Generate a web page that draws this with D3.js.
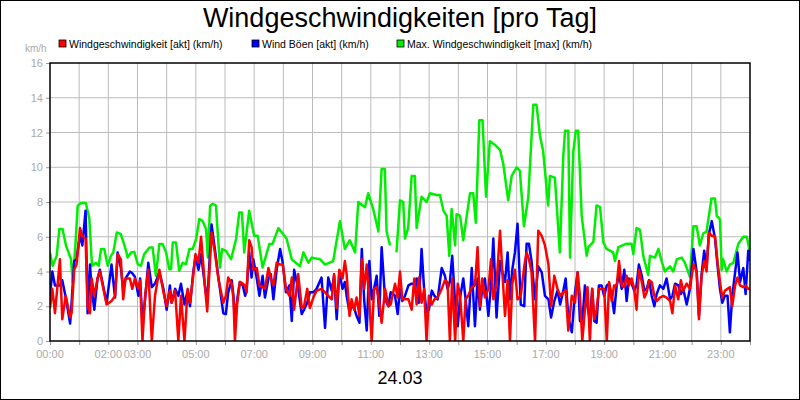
<!DOCTYPE html>
<html>
<head>
<meta charset="utf-8">
<script src="https://cdn.jsdelivr.net/npm/d3@7"></script>
<style>
body { margin: 0; background: #fff; }
text { font-family: "Liberation Sans", Arial, sans-serif; }
</style>
</head>
<body>
<svg id="chart" width="800" height="400"></svg>
<script>
// Zeitpunkte (Stunden) fuer akt + Boeen
let hours = [0,.08,.17,.34,.42,.54,.69,.74,.83,.91,1.03,1.11,1.22,1.29,1.37,1.43,1.52,1.63,1.71,1.94,2.11,2.23,2.32,2.43,2.51,2.59,2.74,2.82,2.91,3.03,3.09,3.17,3.26,3.37,3.49,3.6,3.75,3.89,4.0,4.11,4.17,4.29,4.4,4.49,4.61,4.72,4.8,4.91,4.99,5.09,5.18,5.31,5.39,5.54,5.66,5.77,5.94,
  6.03,6.11,6.23,6.29,6.34,6.42,6.51,6.61,6.69,6.74,6.83,6.91,6.97,7.09,7.18,7.29,7.37,7.49,7.57,7.66,7.77,7.89,7.98,8.09,8.21,8.29,8.37,8.51,8.63,8.71,8.82,8.91,9.03,9.14,9.31,9.43,9.54,9.66,9.74,9.83,9.92,10.03,10.11,10.17,10.27,10.34,10.43,10.51,10.61,10.69,10.77,10.86,10.95,11.03,11.11,11.2,11.29,11.37,11.49,11.6,11.68,
  11.83,11.92,12.0,12.08,12.17,12.29,12.4,12.49,12.57,12.65,12.74,12.83,12.91,12.99,13.09,13.18,13.29,13.43,13.54,13.63,13.71,13.79,13.89,13.98,14.06,14.17,14.25,14.34,14.46,14.57,14.66,14.74,14.82,14.91,15.03,15.12,15.2,15.31,15.43,15.51,15.6,15.69,15.77,15.85,15.94,16.03,16.14,16.26,16.34,16.42,16.51,16.63,16.74,16.86,16.97,17.09,17.18,17.29,17.4,17.49,17.6,17.68,17.77,17.89,18.0,
  18.09,18.17,18.25,18.34,18.43,18.51,18.59,18.66,18.74,18.82,18.91,19.0,19.09,19.17,19.26,19.34,19.43,19.51,19.6,19.69,19.77,19.85,19.94,20.03,20.11,20.19,20.29,20.38,20.46,20.54,20.63,20.72,20.8,20.91,21.03,21.14,21.26,21.34,21.43,21.54,21.63,21.71,21.83,21.94,22.06,22.17,22.25,22.34,22.43,22.51,22.59,22.69,22.8,22.89,22.97,23.05,23.14,23.23,23.31,23.39,23.49,23.57,23.66,23.77,23.85,23.94,24.0]

let windAkt = [1.9,3.0,1.6,4.7,1.25,2.6,1.35,1.6,4.1,4.4,6.5,6.0,5.9,2.0,1.6,3.6,2.6,3.6,4.0,2.1,2.3,2.6,5.0,4.7,2.4,3.6,3.6,3.0,3.6,3.0,3.5,0,2.6,4.1,0,2.6,4.1,2.8,2.0,2.9,2.2,2.9,0,2.6,0,3.0,2.2,3.75,5.0,4.5,6.0,3.2,1.7,6.25,5.0,3.6,2.2,
  2.6,3.65,3.3,2.4,0,2.2,3.4,3.3,3.2,2.8,5.8,5.4,4.1,4.2,3.2,3.1,3.0,4.2,3.6,3.2,4.5,4.4,4.4,3.0,2.6,3.65,1.8,3.85,1.9,2.0,3.0,1.9,2.5,2.9,3.0,2.8,2.6,2.4,3.85,1.9,4.1,3.6,4.6,3.85,1.45,2.4,1.8,2.5,1.45,4.7,3.0,4.4,2.2,0,3.0,3.1,2.2,1.05,3.0,2.0,2.1,
  3.3,2.5,4.0,2.4,2.4,2.4,1.8,3.6,2.1,3.65,2.2,3.0,0,2.6,2.1,2.4,2.5,3.0,3.5,3.4,0,3.6,0,3.3,2.6,0,2.4,2.6,3.1,3.2,5.4,2.0,3.6,2.5,3.0,4.7,2.4,3.3,6.35,3.95,1.45,3.5,0,3.3,4.1,2.4,2.6,4.3,5.1,4.7,3.95,0,6.35,6.05,5.5,4.4,2.0,3.75,3.0,2.6,2.8,2.9,0.6,2.6,2.2,
  3.95,2.6,0,1.8,3.1,0,3.0,1.25,1.8,3.0,3.0,3.0,0,3.4,2.3,3.2,3.2,4.6,3.2,3.1,3.75,3.2,3.6,3.0,1.8,4.1,3.4,2.5,2.8,3.5,3.4,2.6,2.3,2.5,2.6,2.5,2.3,1.6,3.2,2.4,3.5,2.9,3.3,3.0,4.4,4.0,1.25,3.75,4.6,4.0,6.25,6.05,6.05,4.5,3.4,2.5,2.9,3.0,3.1,2.0,3.2,3.65,3.2,3.1,3.2,3.0,3.0]

let windBoeen = [2.6,4.0,3.2,3.2,3.5,2.5,1.0,2.2,4.6,4.7,6.1,5.5,7.5,1.6,4.4,3.0,1.8,3.6,4.1,2.2,4.4,2.5,5.1,4.2,3.0,3.6,4.0,3.9,3.7,2.6,3.6,1.0,2.4,4.5,3.1,3.3,3.95,3.0,1.8,3.2,2.2,3.0,2.6,3.3,2.1,2.9,2.0,3.95,4.9,4.1,5.0,3.2,2.2,6.7,5.2,3.7,1.6,
  1.55,2.8,3.5,2.6,1.05,2.4,3.4,3.2,2.6,2.9,5.1,3.65,4.7,3.6,2.6,3.75,2.5,3.6,3.85,2.4,4.1,5.3,4.5,2.8,3.2,1.15,4.1,3.0,1.55,1.8,2.2,2.8,2.8,3.0,3.65,0.75,3.65,2.9,3.75,1.25,3.95,3.0,3.4,2.6,1.65,2.0,1.9,1.45,1.05,5.3,2.4,0.6,4.6,2.4,3.0,3.75,1.45,5.4,2.4,2.0,2.8,
  2.6,1.55,3.0,2.3,2.6,3.2,3.3,3.3,3.6,2.2,5.3,2.9,1.65,1.8,2.9,2.6,2.4,4.2,3.75,3.0,3.4,4.9,2.2,0.85,2.5,3.6,2.4,0.85,4.2,0.85,3.6,1.8,3.0,3.6,1.45,3.2,5.9,1.35,4.6,3.95,3.4,5.1,2.4,4.1,5.1,6.75,2.1,2.0,5.6,5.6,4.6,2.4,4.3,3.95,2.6,2.4,1.35,2.3,2.9,2.1,2.9,3.6,1.35,0.5,2.8,
  3.95,1.15,1.05,3.2,2.0,1.15,3.0,1.15,1.05,3.2,3.2,2.6,3.2,3.3,2.6,1.6,3.2,3.85,3.0,4.1,2.3,3.6,3.3,2.9,3.2,4.4,3.75,2.9,3.0,3.5,2.6,2.0,2.7,3.2,3.0,3.6,2.4,2.6,3.3,3.2,2.7,3.0,2.1,3.0,5.3,4.0,1.45,3.85,5.2,4.2,6.15,6.9,5.9,4.3,3.0,2.2,2.6,2.6,0.5,2.6,3.95,5.1,3.4,4.2,2.7,5.2,4.6]

// Max-Werte haben eigene Zeitpunkte (Luecke um 11:45)
let maxHours = [0,.09,.23,.32,.43,.55,.72,.78,.87,.95,1.06,1.23,1.35,1.44,1.58,1.67,1.75,1.86,1.98,2.09,2.17,2.29,2.43,2.61,2.66,2.78,2.89,3.01,3.12,3.23,3.41,3.52,3.63,3.75,3.86,3.98,4.09,4.15,4.21,4.32,4.43,4.55,4.66,4.78,4.89,5.01,5.12,5.23,5.35,5.41,5.49,5.58,5.69,5.83,5.9,6.03,6.21,6.38,6.49,6.58,6.66,6.83,7.0,7.12,7.29,7.52,
  7.63,7.83,8.11,8.29,8.57,8.69,8.86,8.97,9.26,9.43,9.71,9.94,10.11,10.28,10.46,10.57,10.8,10.91,11.08,11.26,11.37,11.48,11.54,11.66,11.71,11.8,11.88,12.0,12.11,12.17,12.28,12.4,12.51,12.57,12.74,12.91,13.03,13.26,13.37,13.49,13.6,13.69,13.77,13.89,13.94,14.06,14.17,14.28,14.4,14.51,14.6,14.72,14.83,14.95,15.08,15.25,15.43,
  15.54,15.71,15.83,16.0,16.11,16.25,16.4,16.57,16.68,16.8,16.91,17.08,17.14,17.31,17.48,17.6,17.66,17.77,17.83,17.94,18.03,18.11,18.23,18.4,18.46,18.63,18.74,18.86,18.97,19.08,19.31,19.37,19.49,19.77,19.94,20.0,20.11,20.23,20.34,20.51,20.57,20.74,20.86,20.97,21.08,21.26,21.37,21.49,21.66,21.77,21.94,22.06,22.17,22.28,22.4,22.51,22.68,22.8,22.86,22.97,23.03,23.08,23.2,23.31,23.43,23.6,23.77,23.89,24.0]

let windMax = [5.1,4.33,4.9,6.44,6.44,5.48,4.71,3.37,5.48,7.79,7.94,7.94,7.02,4.33,4.5,4.33,5.29,5.29,4.33,4.9,5.1,6.25,6.15,5.19,4.81,5.1,5.13,4.42,4.33,5.0,5.38,5.38,3.75,5.58,5.58,5.1,4.13,4.13,5.67,5.67,4.04,4.5,4.42,5.29,5.29,5.87,7.02,6.92,6.44,4.81,7.79,7.9,7.79,4.23,5.29,5.19,4.71,5.87,7.4,7.4,5.1,7.5,6.06,6.06,4.23,5.58,
  5.58,6.5,5.9,4.7,4.3,5.1,4.5,4.8,4.7,4.4,4.6,6.9,5.3,5.8,5.1,8.0,7.7,8.5,7.6,6.3,9.9,9.9,6.3,5.5,null,null,5.1,8.1,8.0,5.9,6.5,9.5,9.5,6.5,8.3,8.0,8.5,8.4,8.4,7.5,7.2,4.9,7.6,5.5,7.3,7.2,5.8,7.1,8.5,8.5,6.8,12.7,12.7,8.3,11.5,11.3,11.0,
  10.2,8.1,9.5,10.0,9.8,6.6,8.3,13.6,13.6,11.8,10.9,7.8,9.5,9.4,5.1,10.7,12.1,12.1,4.8,10.9,12.1,12.1,7.2,4.9,5.4,5.7,7.8,7.7,5.7,5.3,5.1,4.6,5.4,5.6,5.6,5.0,6.5,6.4,4.9,3.8,4.9,4.8,5.3,4.6,4.0,4.3,4.0,4.7,4.8,4.5,3.7,6.6,6.6,5.5,6.2,6.3,8.2,8.2,7.2,7.0,4.1,4.7,4.0,4.4,4.5,5.6,6.0,6.0,5.1]

let yTicks = [0,2,4,6,8,10,12,14,16]
let xLabels = ["00:00","02:00","03:00","05:00","07:00","09:00","11:00","13:00","15:00","17:00","19:00","21:00","23:00"]
let xLabelHours = [0,2,3,5,7,9,11,13,15,17,19,21,23]

let svg = d3.select("#chart")
svg.append("rect").attr("x",0.5).attr("y",0.5).attr("width",799).attr("height",399)
  .attr("fill","#fff").attr("stroke","#000")

let x = d3.scaleLinear().domain([0,24]).range([50,750])
let y = d3.scaleLinear().domain([0,16]).range([341,63])

// Gitter
svg.append("g").selectAll("line").data(d3.range(1,24)).enter().append("line")
  .attr("x1", d => x(d)).attr("x2", d => x(d)).attr("y1", 63).attr("y2", 341)
  .attr("stroke","#bbb")
svg.append("g").selectAll("line").data(yTicks.slice(1,-1)).enter().append("line")
  .attr("x1", 50).attr("x2", 750).attr("y1", d => y(d)).attr("y2", d => y(d))
  .attr("stroke","#bbb")

// Achsen
let yAxis = d3.axisLeft(y).tickValues(yTicks).tickSize(4).tickPadding(3)
let gy = svg.append("g").attr("transform","translate(50,0)").call(yAxis)
let xAxis = d3.axisBottom(x).tickValues(d3.range(0,25)).tickSize(4).tickFormat("")
let gx = svg.append("g").attr("transform","translate(0,341)").call(xAxis)
gy.select(".domain").remove(); gx.select(".domain").remove()
svg.selectAll(".tick line").attr("stroke","#999")
gy.selectAll("text").attr("fill","#aaa").style("font-size","11px")

svg.append("g").selectAll("text").data(xLabels).enter().append("text")
  .attr("x", (d,i) => x(xLabelHours[i])).attr("y", 358)
  .attr("text-anchor","middle").attr("fill","#aaa").style("font-size","11px")
  .text(d => d)

// Linien
let series = [
  {h: maxHours, v: windMax, c: "#00ee00"},
  {h: hours, v: windBoeen, c: "#0000ff"},
  {h: hours, v: windAkt, c: "#ff0000"}
]
let clip = svg.append("clipPath").attr("id","clip").append("rect")
  .attr("x",50).attr("y",63).attr("width",700).attr("height",278)
series.forEach(s => {
  let line = d3.line().defined(i => s.v[i] != null)
    .x(i => x(s.h[i])).y(i => y(s.v[i]))
  svg.append("path").datum(d3.range(s.v.length))
    .attr("clip-path","url(#clip)")
    .attr("fill","none").attr("stroke", s.c).attr("stroke-width",2.5)
    .attr("stroke-linejoin","round").attr("d", line)
})

svg.append("rect").attr("x",50).attr("y",63).attr("width",700).attr("height",278)
  .attr("fill","none").attr("stroke","#000").attr("stroke-width",1.5)

// Titel + Legende
svg.append("text").attr("x",400).attr("y",27).attr("text-anchor","middle")
  .style("font-size","27px").text("Windgeschwindigkeiten [pro Tag]")
svg.append("text").attr("x",25).attr("y",52).attr("fill","#aaa").style("font-size","10px").text("km/h")

let legend = [
  {t:"Windgeschwindigkeit [akt] (km/h)", c:"#ff0000", x:59},
  {t:"Wind Böen [akt] (km/h)", c:"#0000ff", x:252},
  {t:"Max. Windgeschwindigkeit [max] (km/h)", c:"#00ee00", x:397}
]
let lg = svg.append("g").selectAll("g").data(legend).enter().append("g")
lg.append("rect").attr("x", d => d.x).attr("y",40).attr("width",7).attr("height",7)
  .attr("fill", d => d.c).attr("stroke","#000").attr("stroke-width",0.8)
lg.append("text").attr("x", d => d.x + 10).attr("y",48).style("font-size","10.5px").text(d => d.t)

svg.append("text").attr("x",400).attr("y",384).attr("text-anchor","middle")
  .style("font-size","18px").text("24.03")
</script>
</body>
</html>
